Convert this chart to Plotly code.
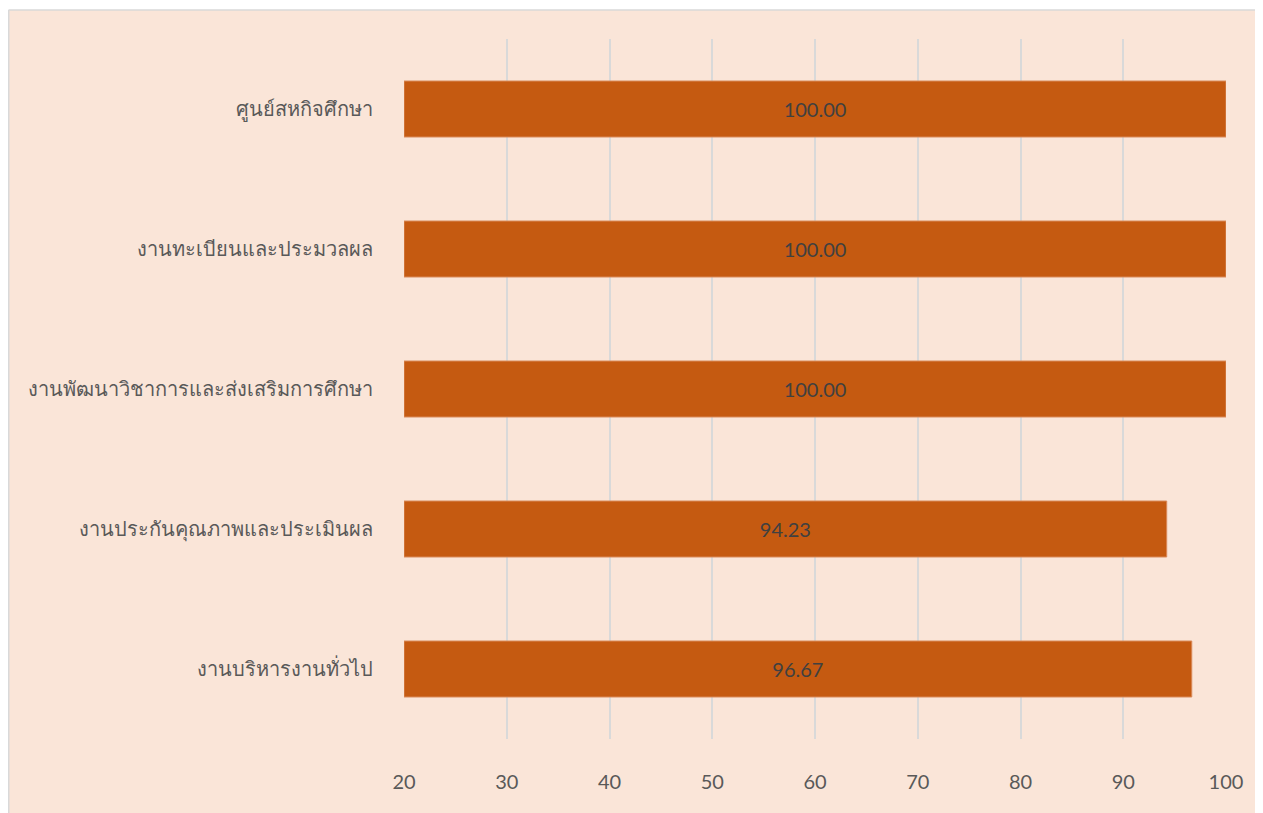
import plotly.graph_objects as go

categories = ["งานบริหารงานทั่วไป", "งานประกันคุณภาพและประเมินผล",
              "งานพัฒนาวิชาการและส่งเสริมการศึกษา", "งานทะเบียนและประมวลผล", "ศูนย์สหกิจศึกษา"]
values = [96.67, 94.23, 100.00, 100.00, 100.00]
tick_vals = [20, 30, 40, 50, 60, 70, 80, 90, 100]
axis_min = 20

W, H = 1263, 813
L, R, T, B = 396, 45, 31, 82
PW, PH = W - L - R, H - T - B

fig = go.Figure(go.Bar(
    x=[v - axis_min for v in values], base=axis_min, y=categories, orientation="h",
    marker=dict(color="#C55A11", line=dict(color="#D98A5A", width=1)),
    text=[f"{v:.2f}" for v in values], textposition="inside",
    insidetextanchor="middle",
    textfont=dict(color="#404040", size=20, family="Lato, Noto Sans, sans-serif"),
    width=0.4,
    hovertext=[f"{c}: {v:.2f}" for c, v in zip(categories, values)], hoverinfo="text",
))

fig.update_layout(
    width=W, height=H,
    paper_bgcolor="#FAE5D8", plot_bgcolor="#FAE5D8",
    margin=dict(l=L, r=R, t=T, b=B),
    showlegend=False,
    font=dict(family="Lato, Noto Sans, sans-serif", color="#595959", size=20),
    shapes=[
        dict(type="rect", xref="paper", yref="paper",
             x0=-L / PW, x1=(W - L) / PW, y0=1 + (T - 2) / PH, y1=1 + T / PH,
             fillcolor="white", line=dict(width=0), layer="below"),
        dict(type="line", xref="paper", yref="paper",
             x0=(-L + 0.5) / PW, x1=(W - L) / PW, y0=1 + (T - 2) / PH, y1=1 + (T - 2) / PH,
             line=dict(color="#D9D9D9", width=1.5), layer="below"),
        dict(type="line", xref="paper", yref="paper",
             x0=(-L + 0.75) / PW, x1=(-L + 0.75) / PW, y0=-B / PH, y1=1 + (T - 2) / PH,
             line=dict(color="#D9D9D9", width=1.5), layer="below"),
    ],
)
fig.update_xaxes(range=[20, 100], tickvals=tick_vals, showgrid=True, gridcolor="#D9D9D9",
                 gridwidth=1.5, zeroline=False, showline=False, ticks="",
                 tickfont=dict(size=20, color="#595959"), ticklabelstandoff=29)
fig.update_yaxes(showgrid=False, ticks="", ticklabelstandoff=30,
                 tickfont=dict(size=20, color="#595959"))

fig.write_html("out.html")
